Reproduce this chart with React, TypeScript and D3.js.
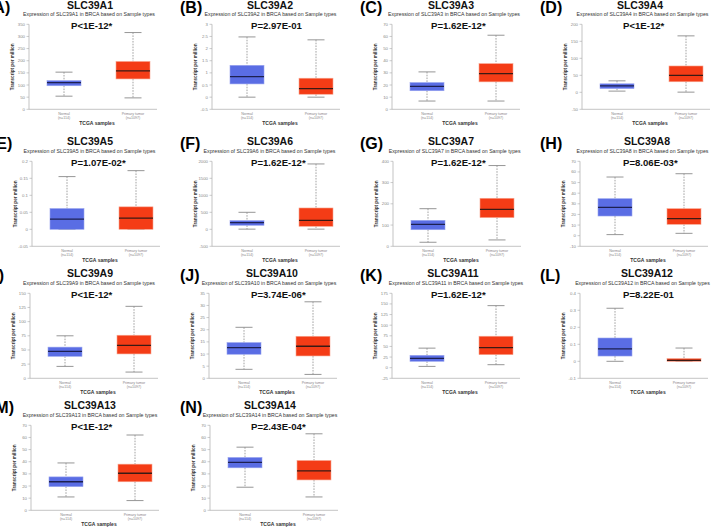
import React from "react";
import * as d3 from "d3";

// ---------- data ----------
const genes = ["SLC39A1","SLC39A2","SLC39A3","SLC39A4","SLC39A5","SLC39A6","SLC39A7","SLC39A8","SLC39A9","SLC39A10","SLC39A11","SLC39A12","SLC39A13","SLC39A14"];
const panelLetters = ["A","B","C","D","E","F","G","H","I","J","K","L","M","N"];
const pValues = ["P<1E-12*","P=2.97E-01","P=1.62E-12*","P<1E-12*","P=1.07E-02*","P=1.62E-12*","P=1.62E-12*","P=8.06E-03*","P<1E-12*","P=3.74E-06*","P=1.62E-12*","P=8.22E-01","P<1E-12*","P=2.43E-04*"];
const categories = ["Normal", "Primary tumor"];
const sampleCounts = ["(n=114)", "(n=1097)"];
const yTicks: number[][] = [
  [0,50,100,150,200,250,300,350],
  [-0.5,0,0.5,1,1.5,2,2.5,3],
  [0,10,20,30,40,50,60,70],
  [-50,0,50,100,150,200],
  [-0.05,0,0.05,0.1,0.15,0.2],
  [-500,0,500,1000,1500,2000],
  [0,100,200,300,400],
  [-10,0,10,20,30,40,50,60,70],
  [0,25,50,75,100,125,150],
  [0,5,10,15,20,25,30,35],
  [-25,0,25,50,75,100,125,150,175],
  [-0.1,0,0.1,0.2,0.3,0.4],
  [0,10,20,30,40,50,60,70],
  [0,10,20,30,40,50,60,70],
];
// [whisker low, q1, median, q3, whisker high]
const normalStats: number[][] = [
  [54,97,110,118,153],
  [0,0.545,0.845,1.31,2.48],
  [6.8,15.3,18.8,22,30.8],
  [3.5,11,19,25,33.7],
  [0,0,0.03,0.061,0.155],
  [5,118,196,255,500],
  [19,78,103.5,122,177],
  [1,18.5,26.6,34.8,55.2],
  [21,38.8,47.6,55,75],
  [3.7,9.9,12.6,14.7,21],
  [3,15,22,29,46],
  [0,0.031,0.073,0.137,0.312],
  [11,19.5,23.5,27.5,39],
  [19,35,39.5,43.5,52],
];
const tumorStats: number[][] = [
  [47,125,158,197,316],
  [0,0.12,0.35,0.78,2.36],
  [6.8,22.6,29.4,37.6,61],
  [0.5,31,50,77.4,166],
  [0,0,0.033,0.066,0.1725],
  [5,88,265,627,1922],
  [30,135,174,226,380],
  [2.2,10.7,16,25.4,58.3],
  [11,43,58,76,127],
  [1.6,9.2,13.2,17.3,31.5],
  [7,30.6,47,74,146],
  [0,0,0.006,0.016,0.078],
  [8,23.5,30.5,38,62],
  [11,25,32.5,41,63],
];

// ---------- layout (not data) ----------
const colX = [0, 180, 360, 540];
const rowY = [-5, 132, 264, 396];
const axisXs = [29,32,32,42,32,32,33,40,30,29,32,40,31,30];
const titleCx = [90,90,91,100,90,90,91,107,90,92,93,107,90,90];
const subCx = [89,90.5,94,102.5,89.5,89.5,94.7,102.5,89,89,96,102.5,90,90];
const pLeft = [71,71,71,83,71,71,71,83,71,71,71,83,71,71];
const labelX = [-12,180,360,540,-9,180,360,540,-11,180,360,540,-10,180];

const FONT = "'Liberation Sans', Arial, sans-serif";
const PLOT_TOP = 29.3;
const PLOT_BOTTOM = 114.3;

const colors = {
  normal: { fill: "#5a6de4", stroke: "#97a3ef", median: "#1d2050" },
  tumor: { fill: "#f43c16", stroke: "#f8a58f", median: "#3a1a14" },
};

function Panel({ i }: { i: number }) {
  const col = i % 4;
  const row = Math.floor(i / 4);
  const ox = colX[col];
  const oy = rowY[row];
  const ax = axisXs[i];
  const ticks = yTicks[i];
  const y = d3.scaleLinear().domain([ticks[0], ticks[ticks.length - 1]]).range([PLOT_BOTTOM, PLOT_TOP]);
  const x = d3.scalePoint<string>().domain(categories).range([ax + 35, ax + 104]);
  const boxW = 34;
  const capW = 17;
  const stats = [normalStats[i], tumorStats[i]];
  const styles = [colors.normal, colors.tumor];
  const titleY = row === 0 ? 13.6 : 13.3;
  return (
    <g transform={`translate(${ox},${oy})`}>
      <text x={titleCx[i]} y={titleY} textAnchor="middle" fontFamily={FONT} fontWeight="bold" fontSize={10.5} fill="#111">{genes[i]}</text>
      <text x={subCx[i]} y={21} textAnchor="middle" fontFamily={FONT} fontSize={5.2} fill="#333">{`Expression of ${genes[i]} in BRCA based on Sample types`}</text>
      <text x={pLeft[i]} y={34} fontFamily={FONT} fontWeight="bold" fontSize={9.6} fill="#111">{pValues[i]}</text>
      {/* y axis */}
      <line x1={ax} x2={ax} y1={PLOT_TOP} y2={PLOT_BOTTOM} stroke="#aaa" strokeWidth={0.7} />
      {ticks.map((t) => (
        <g key={t}>
          <line x1={ax - 2.5} x2={ax} y1={y(t)} y2={y(t)} stroke="#aaa" strokeWidth={0.6} />
          <text x={ax - 4} y={y(t) + 1.5} textAnchor="end" fontFamily={FONT} fontSize={4.3} fill="#888">{String(t)}</text>
        </g>
      ))}
      <line x1={ax} x2={ax + 128} y1={PLOT_BOTTOM} y2={PLOT_BOTTOM} stroke="#aaa" strokeWidth={0.7} />
      <text transform={`translate(${ax - 15},${(PLOT_TOP + PLOT_BOTTOM) / 2}) rotate(-90)`} textAnchor="middle" fontFamily={FONT} fontWeight="bold" fontSize={4.6} fill="#333">Transcript per million</text>
      {categories.map((c, k) => {
        const s = stats[k];
        const cx = x(c)!;
        const st = styles[k];
        return (
          <g key={c}>
            <line x1={cx} x2={cx} y1={y(s[4])} y2={y(s[3])} stroke="#8a8a8a" strokeWidth={0.8} strokeDasharray="1.6,1.2" />
            <line x1={cx} x2={cx} y1={y(s[1])} y2={y(s[0])} stroke="#8a8a8a" strokeWidth={0.8} strokeDasharray="1.6,1.2" />
            <line x1={cx - capW / 2} x2={cx + capW / 2} y1={y(s[4])} y2={y(s[4])} stroke="#8a8a8a" strokeWidth={0.9} />
            <line x1={cx - capW / 2} x2={cx + capW / 2} y1={y(s[0])} y2={y(s[0])} stroke="#8a8a8a" strokeWidth={0.9} />
            <rect x={cx - boxW / 2} y={y(s[3])} width={boxW} height={Math.max(y(s[1]) - y(s[3]), 1)} fill={st.fill} stroke={st.stroke} strokeWidth={0.6} />
            <line x1={cx - boxW / 2} x2={cx + boxW / 2} y1={y(s[2])} y2={y(s[2])} stroke={st.median} strokeWidth={1.3} />
            <text x={cx} y={120} textAnchor="middle" fontFamily={FONT} fontSize={3.6} fill="#888">{c}</text>
            <text x={cx} y={124} textAnchor="middle" fontFamily={FONT} fontSize={3.6} fill="#888">{sampleCounts[k]}</text>
          </g>
        );
      })}
      <text x={ax + 68} y={130} textAnchor="middle" fontFamily={FONT} fontWeight="bold" fontSize={5} fill="#333">TCGA samples</text>
      <text x={labelX[i] - ox} y={row === 0 ? 17.8 : 17} fontFamily={FONT} fontWeight="bold" fontSize={16} fill="#000">{`(${panelLetters[i]})`}</text>
    </g>
  );
}

export default function App() {
  return (
    <svg width={720} height={527} style={{ position: "absolute", left: 0, top: 0, background: "#fff" }}>
      <rect width={720} height={527} fill="#fff" />
      {genes.map((_, i) => (
        <Panel key={i} i={i} />
      ))}
    </svg>
  );
}
